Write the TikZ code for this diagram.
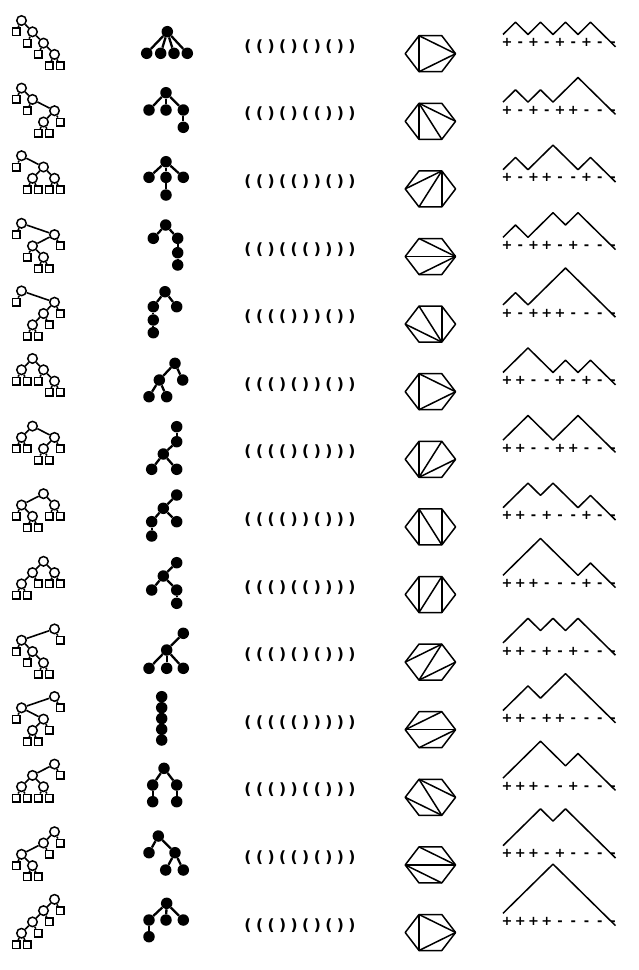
\documentclass[tikz,border=0pt]{standalone}
\usepackage{fontspec}
\setmainfont{Liberation Sans}
\newfontfamily\markfont{DejaVu Sans}
\usepackage{tikz}

\makeatletter
% every character of #2 in its own box, #1 wide
\newcommand\spread[2]{%
  \def\spreadbox{\makebox[#1]{\ch}}%
  \edef\spreadnext{\noexpand\@tfor\noexpand\ch:=#2}%
  \spreadnext\do{\spreadbox}}
\makeatother

\begin{document}
\begin{tikzpicture}[
  x=1pt, y=-1pt,
  inode/.style = {circle, draw, fill=white, line width=1.5pt,
                  minimum size=9.5pt, inner sep=0pt},
  leaf/.style  = {rectangle, draw, fill=white, line width=1.5pt,
                  minimum size=7.5pt, inner sep=0pt},
  dot/.style   = {circle, fill=black, minimum size=11.5pt, inner sep=0pt},
  bedge/.style = {line width=1.6pt},
  pedge/.style = {line width=2.3pt},
  poly/.style  = {line width=1.5pt, line join=round},
  word/.style  = {font=\markfont\fontsize{15.5}{16}\selectfont\bfseries, inner sep=0pt},
  sign/.style  = {font=\markfont\fontsize{13}{13}\selectfont\bfseries, inner sep=0pt,
                  anchor=base}
]
\useasboundingbox (0,0) rectangle (639,970);

% Column 1: binary trees (depth of the 9 nodes in in-order, then edges)
\foreach \r/\dep/\edg in {
  1/{1,0,2,1,3,2,4,3,4}/{1/0,1/3,3/2,3/5,5/4,5/7,7/6,7/8},
  2/{1,0,2,1,4,3,4,2,3}/{1/0,1/3,3/2,3/7,7/5,7/8,5/4,5/6},
  3/{1,0,3,2,3,1,3,2,3}/{1/0,1/5,5/3,5/7,3/2,3/4,7/6,7/8},
  4/{1,0,3,2,4,3,4,1,2}/{1/0,1/7,7/3,7/8,3/2,3/5,5/4,5/6},
  5/{1,0,4,3,4,2,3,1,2}/{1/0,1/7,7/5,7/8,5/3,5/6,3/2,3/4},
  6/{2,1,2,0,2,1,3,2,3}/{3/1,3/5,1/0,1/2,5/4,5/7,7/6,7/8},
  7/{2,1,2,0,3,2,3,1,2}/{3/1,3/7,1/0,1/2,7/5,7/8,5/4,5/6},
  8/{2,1,3,2,3,0,2,1,2}/{5/1,5/7,1/0,1/3,3/2,3/4,7/6,7/8},
  9/{3,2,3,1,2,0,2,1,2}/{5/3,5/7,3/1,3/4,1/0,1/2,7/6,7/8},
  10/{2,1,3,2,4,3,4,0,1}/{7/1,7/8,1/0,1/3,3/2,3/5,5/4,5/6},
  11/{2,1,4,3,4,2,3,0,1}/{7/1,7/8,1/0,1/5,5/3,5/6,3/2,3/4},
  12/{3,2,3,1,3,2,3,0,1}/{7/3,7/8,3/1,3/5,1/0,1/2,5/4,5/6},
  13/{3,2,4,3,4,1,2,0,1}/{7/5,7/8,5/1,5/6,1/0,1/3,3/2,3/4},
  14/{4,3,4,2,3,1,2,0,1}/{7/5,7/8,5/3,5/6,3/1,3/4,1/0,1/2}}{
  \pgfmathsetmacro\cy{48+67.6*(\r-1)}
  \foreach \d [count=\i from 0] in \dep {
    \ifodd\i\relax
      \node[inode] (b\r-\i) at ({16+5.5*\i},{\cy-27.5+11.3*\d}) {};
    \else
      \node[leaf] (b\r-\i) at ({16+5.5*\i},{\cy-27.5+11.3*\d}) {};
    \fi
  }
  \foreach \p/\q in \edg {\draw[bedge] (b\r-\p) -- (b\r-\q);}
}

% Column 2: plane trees (offsets of the 5 dots, then edges)
\foreach \r/\pts/\edg in {
  1/{1.3/-16.3,-19.3/5.3,-5.3/5.3,8/5.3,21.3/5.3}/{0/1,0/2,0/3,0/4},
  2/{0/-22.9,-17/-5.6,0/-5.6,17.3/-5.6,17.3/11.7}/{0/1,0/2,0/3,3/4},
  3/{0/-21.5,-17/-5.9,0/-5.9,17.3/-5.9,0/11.8}/{0/1,0/2,0/3,2/4},
  4/{-0.3/-25.8,-12.7/-12.5,11.7/-12.5,11.7/1.9,11.7/14.2}/{0/1,0/2,2/3,3/4},
  5/{-1/-26.7,-12.7/-11.7,10.7/-11.7,-12.7/1.6,-12.7/14.3}/{0/1,0/2,1/3,3/4},
  6/{9/-22.7,-6.7/-6,16.7/-6,-17/10.7,0.7/10.7}/{0/1,0/2,1/3,1/4},
  7/{10.7/-26.9,10.7/-11.9,-2.7/0.4,-14.3/15.7,10.7/15.7}/{0/1,1/2,2/3,2/4},
  8/{10.7/-26.2,-2.7/-12.9,-14.3/0.5,10.7/0.5,-14.3/14.8}/{0/1,1/2,1/3,2/4},
  9/{10.7/-26.1,-2.7/-12.8,-14.3/1.2,10.7/1.2,10.7/14.5}/{0/1,1/2,1/3,3/4},
  10/{17.3/-23.1,0.7/-6.4,-17/11.9,0.7/11.9,17.3/11.9}/{0/1,1/2,1/3,1/4},
  11/{-4.3/-27.3,-4.3/-16.3,-4.3/-5.5,-4.3/5.3,-4.3/16}/{0/1,1/2,2/3,3/4},
  12/{-2/-23.3,-13.3/-6.6,10.7/-6.6,-13.3/10.1,10.7/10.1}/{0/1,0/2,1/3,2/4},
  13/{-7.7/-23.2,-17/-6.5,9/-6.5,-0.3/10.8,17.3/10.8}/{0/1,0/2,2/3,2/4},
  14/{0.7/-23.5,-17/-6.8,0/-6.8,17.3/-6.8,-17/9.9}/{0/1,0/2,0/3,1/4}}{
  \pgfmathsetmacro\cy{48+67.6*(\r-1)}
  \foreach \px/\py [count=\i from 0] in \pts
    {\node[dot] (p\r-\i) at ({166+\px},{\cy+\py}) {};}
  \foreach \p/\q in \edg {\draw[pedge] (p\r-\p) -- (p\r-\q);}
}

% Column 3: bracketings
\foreach \r/\w in {
  1/(()()()()), 2/(()()(())), 3/(()(())()), 4/(()((()))),
  5/(((()))()), 6/((()())()), 7/(((()()))), 8/(((())())),
  9/((()(()))), 10/((()()())), 11/((((())))), 12/((())(())),
  13/(()(()())), 14/((())()())}{
  \pgfmathsetmacro\cy{48+67.6*(\r-1)-1.5}
  \node[word] (w\r) at (300,\cy) {\spread{11.55pt}{\w}};
}

% Column 4: triangulated hexagons (1 = left corner, then clockwise)
\foreach \r/\dia in {
  1/{2/4,2/6,6/4}, 2/{2/4,2/5,2/6}, 3/{3/1,3/6,3/5}, 4/{4/2,4/1,4/6},
  5/{5/3,5/2,5/1}, 6/{2/4,2/6,6/4}, 7/{6/2,6/3,6/4}, 8/{2/6,2/5,3/5},
  9/{2/6,3/6,3/5}, 10/{1/3,3/6,6/4}, 11/{1/3,1/4,6/4}, 12/{2/4,2/5,1/5},
  13/{2/4,1/4,1/5}, 14/{2/4,2/6,6/4}}{
  \pgfmathsetmacro\cy{48+67.6*(\r-1)+5.7}
  \coordinate (h\r-1) at (405.2,\cy);
  \coordinate (h\r-2) at (419,{\cy-18});
  \coordinate (h\r-3) at (441.8,{\cy-18});
  \coordinate (h\r-4) at (455.6,\cy);
  \coordinate (h\r-5) at (441.8,{\cy+18});
  \coordinate (h\r-6) at (419,{\cy+18});
  \draw[poly] (h\r-1) -- (h\r-2) -- (h\r-3) -- (h\r-4) -- (h\r-5) -- (h\r-6) -- cycle;
  \foreach \a/\b in \dia {\draw[poly] (h\r-\a) -- (h\r-\b);}
}

% Column 5: mountain paths and their signs (1 up, -1 down)
\foreach \r/\s in {
  1/{1,-1,1,-1,1,-1,1,-1,-1},  2/{1,-1,1,-1,1,1,-1,-1,-1},
  3/{1,-1,1,1,-1,-1,1,-1,-1},  4/{1,-1,1,1,-1,1,-1,-1,-1},
  5/{1,-1,1,1,1,-1,-1,-1,-1},  6/{1,1,-1,-1,1,-1,1,-1,-1},
  7/{1,1,-1,-1,1,1,-1,-1,-1},  8/{1,1,-1,1,-1,-1,1,-1,-1},
  9/{1,1,1,-1,-1,-1,1,-1,-1},  10/{1,1,-1,1,-1,1,-1,-1,-1},
  11/{1,1,-1,1,1,-1,-1,-1,-1}, 12/{1,1,1,-1,-1,1,-1,-1,-1},
  13/{1,1,1,-1,1,-1,-1,-1,-1}, 14/{1,1,1,1,-1,-1,-1,-1,-1}}{
  \pgfmathsetmacro\cy{48+67.6*(\r-1)}
  \coordinate (m\r) at (503,{\cy-13.5});
  \draw[poly] (m\r) \foreach \t in \s {-- ++(12.5,{-12.3*\t})};
  \foreach \t [count=\i from 0] in \s
    {\node[sign] (s\r-\i) at ({507+13.25*\i},{\cy-1.4}) {\ifnum\t>0 +\else -\fi};}
}

\end{tikzpicture}
\end{document}
